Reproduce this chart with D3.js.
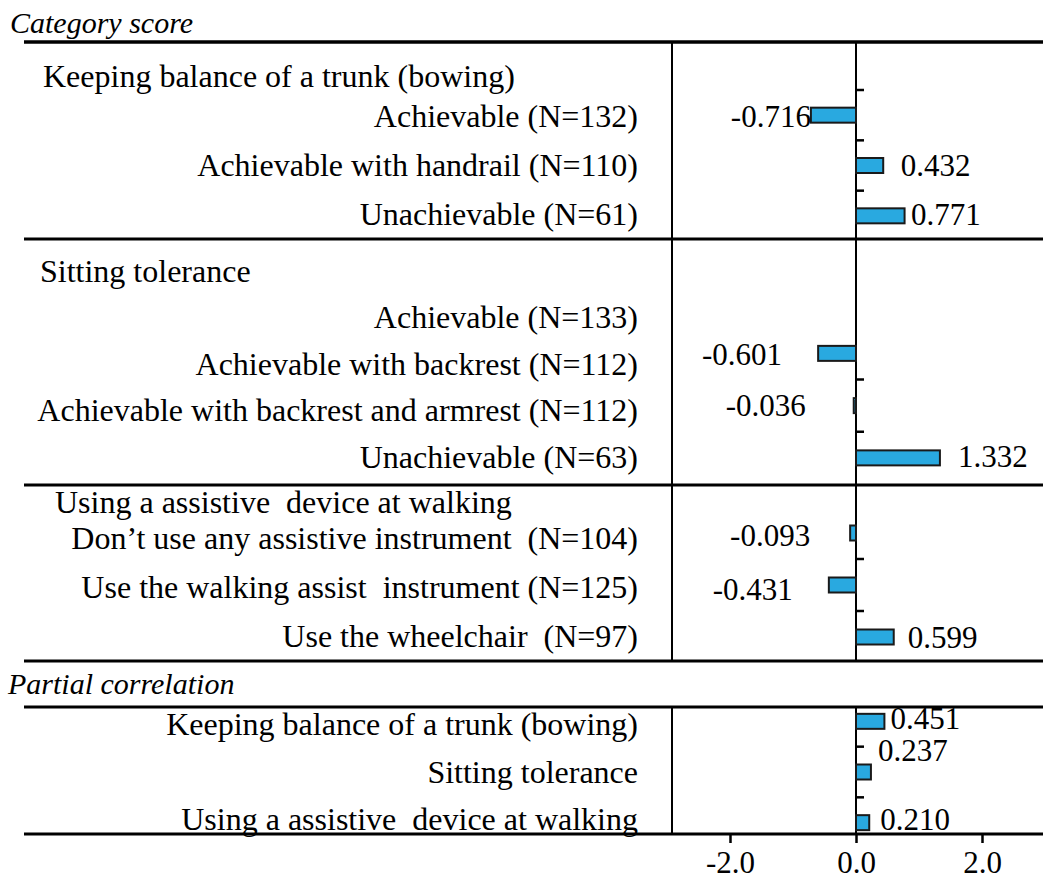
<!DOCTYPE html>
<html><head><meta charset="utf-8">
<script src="https://cdn.jsdelivr.net/npm/d3@7"></script>
<style>
html,body{margin:0;padding:0;background:#fff;}
svg{display:block;}
text{font-family:"Liberation Serif","Times New Roman",serif;fill:#000;white-space:pre;}
</style></head><body>
<svg id="chart" width="1043" height="880"></svg>
<script>
// ---------- data ----------
const sectionTitles = ["Category score", "Partial correlation"];
const groupHeaders = ["Keeping balance of a trunk (bowing)", "Sitting tolerance", "Using a assistive  device at walking"];

const trunkCats = ["Achievable (N=132)", "Achievable with handrail (N=110)", "Unachievable (N=61)"];
const trunkVals = [-0.716, 0.432, 0.771];

const sittingCats = ["Achievable (N=133)", "Achievable with backrest (N=112)", "Achievable with backrest and armrest (N=112)", "Unachievable (N=63)"];
const sittingVals = [null, -0.601, -0.036, 1.332];

const walkingCats = ["Don\u2019t use any assistive instrument  (N=104)", "Use the walking assist  instrument (N=125)", "Use the wheelchair  (N=97)"];
const walkingVals = [-0.093, -0.431, 0.599];

const partialCats = ["Keeping balance of a trunk (bowing)", "Sitting tolerance", "Using a assistive  device at walking"];
const partialVals = [0.451, 0.237, 0.210];

const xTickValues = [-2, 0, 2];

// ---------- layout (positions / styles) ----------
const W = 1043, H = 880;
const FONT = 32, VFONT = 31;
const barColor = "#29a9e0";
const xLeft = 672, lineStart = 24;

const sections = [
  {cats: trunkCats, vals: trunkVals, header: 0, headerX: 43, headerY: 87,
   labelRange: [126.7, 225], barRange: [90, 241], tickFrom: 0,
   vdx: [0, 17.5, 6.5], vdy: [0, 0, 0]},
  {cats: sittingCats, vals: sittingVals, header: 1, headerX: 40, headerY: 282,
   labelRange: [328, 468], barRange: [275, 484], tickFrom: 2,
   vdx: [0, -36, -48, 18], vdy: [0, -10, -5, -1]},
  {cats: walkingCats, vals: walkingVals, header: 2, headerX: 55, headerY: 513,
   labelRange: [549, 647], barRange: [507, 663], tickFrom: 1,
   vdx: [-40, -36, 14], vdy: [-3, 2, 1]},
  {cats: partialCats, vals: partialVals, header: null,
   labelRange: [735, 830], barRange: [696, 848], tickFrom: 1,
   vdx: [6, 7, 11], vdy: [-6, -22, 0]}
];

const svg = d3.select("#chart");

const x = d3.scaleLinear().domain([-2, 2]).range([856 - 2 * 63, 856 + 2 * 63]);
const x0 = x(0);

// frame lines
const hLines = [{y: 42, w: 3.5}, {y: 239, w: 3}, {y: 485, w: 3}, {y: 661, w: 3}, {y: 707, w: 3}, {y: 834, w: 3}];
svg.selectAll("line.h").data(hLines).join("line")
  .attr("x1", lineStart).attr("x2", W).attr("y1", d => d.y).attr("y2", d => d.y)
  .attr("stroke", "#000").attr("stroke-width", d => d.w);

const vSegs = [[42, 661], [707, 834]];
[xLeft, x0].forEach(xx => {
  vSegs.forEach(s => {
    svg.append("line").attr("x1", xx).attr("x2", xx).attr("y1", s[0]).attr("y2", s[1])
      .attr("stroke", "#000").attr("stroke-width", 2);
  });
});

// section titles
svg.append("text").attr("x", 10).attr("y", 33).attr("font-size", 30).attr("font-style", "italic").text(sectionTitles[0]);
svg.append("text").attr("x", 8).attr("y", 694).attr("font-size", 30).attr("font-style", "italic").text(sectionTitles[1]);

sections.forEach(sec => {
  const g = svg.append("g");
  if (sec.header !== null) {
    g.append("text").attr("x", sec.headerX).attr("y", sec.headerY)
      .attr("font-size", FONT).text(groupHeaders[sec.header]);
  }
  const ly = d3.scalePoint().domain(sec.cats).range(sec.labelRange);
  const by = d3.scaleBand().domain(sec.cats).range(sec.barRange);
  const rows = sec.cats.map((c, i) => ({c, v: sec.vals[i], i}));

  g.selectAll("text.cat").data(rows).join("text").attr("class", "cat")
    .attr("x", 638).attr("y", d => ly(d.c)).attr("text-anchor", "end")
    .attr("font-size", FONT).text(d => d.c);

  // small ticks on the zero line at band boundaries
  g.selectAll("line.tk").data(rows.filter(d => d.i >= sec.tickFrom)).join("line")
    .attr("x1", x0).attr("x2", x0 + 8)
    .attr("y1", d => by(d.c)).attr("y2", d => by(d.c))
    .attr("stroke", "#000").attr("stroke-width", 2.5);

  const withVal = rows.filter(d => d.v !== null);
  const bh = 15;
  g.selectAll("rect.bar").data(withVal).join("rect").attr("class", "bar")
    .attr("x", d => Math.min(x(d.v), x0)).attr("width", d => Math.abs(x(d.v) - x0))
    .attr("y", d => by(d.c) + by.bandwidth() / 2 - bh / 2).attr("height", bh)
    .attr("fill", barColor).attr("stroke", "#1a1a1a").attr("stroke-width", 2);

  g.selectAll("text.val").data(withVal).join("text").attr("class", "val")
    .attr("x", d => x(d.v) + sec.vdx[d.i])
    .attr("y", d => ly(d.c) + sec.vdy[d.i])
    .attr("text-anchor", d => d.v < 0 ? "end" : "start")
    .attr("font-size", VFONT).text(d => d.v.toFixed(3));
});

// x axis
const axis = d3.axisBottom(x).tickValues(xTickValues).tickFormat(d => d.toFixed(1)).tickSize(8).tickPadding(8);
const ag = svg.append("g").attr("transform", "translate(0,835)").call(axis);
ag.select(".domain").remove();
ag.selectAll(".tick line").attr("stroke", "#000").attr("stroke-width", 2.5);
ag.selectAll(".tick text").attr("font-size", VFONT).attr("font-family", "Liberation Serif, serif").attr("fill", "#000");
</script>
</body></html>
